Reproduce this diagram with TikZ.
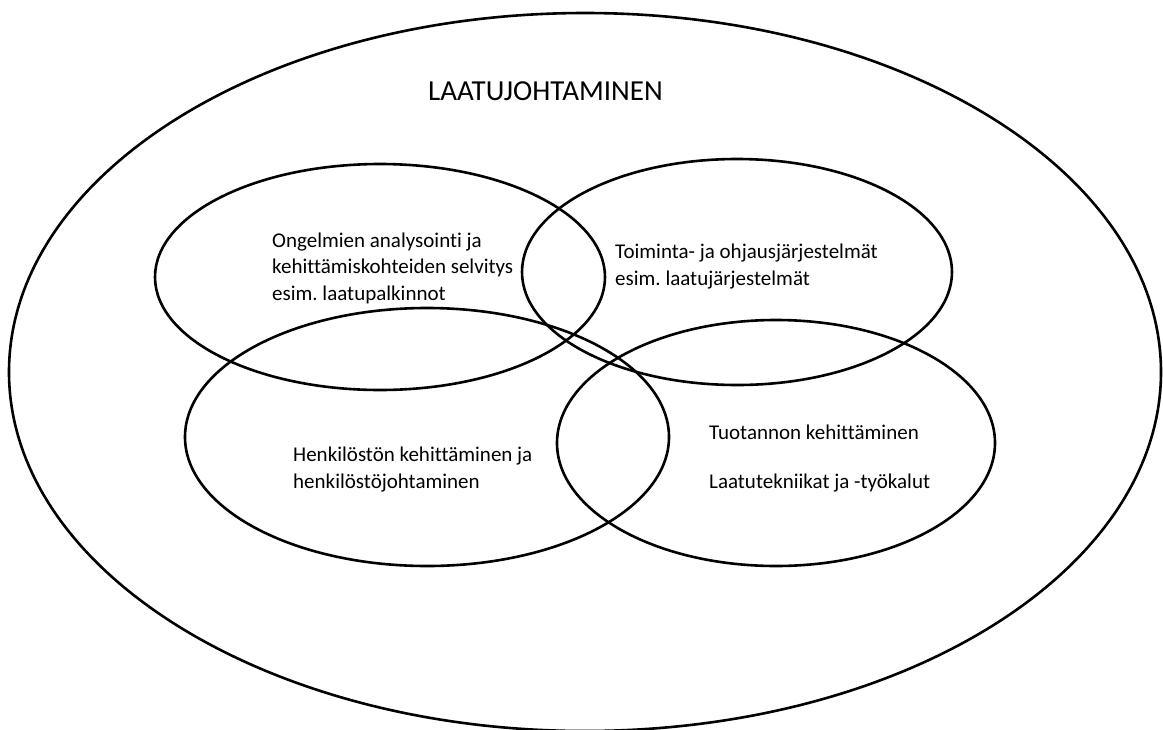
\documentclass[tikz,border=0pt]{standalone}
\usepackage{fontspec}
\setmainfont{Carlito}[Ligatures=NoCommon]
\usepackage{tikz}
\usetikzlibrary{positioning}
\frenchspacing

\begin{document}
\begin{tikzpicture}[x=1pt, y=-1pt,
    ring/.style={line width=2.6pt},
    lbl/.style={anchor=base west, align=left, inner sep=0pt,
      font=\fontsize{21}{26.5}\selectfont}]
  \useasboundingbox (0,0) rectangle (1163,729);
  % outer ring and the four overlapping rings
  \foreach \cx/\cy/\rx/\ry in {
      585/372/576/359,
      380/277/225/113,
      737/272/215/113,
      427/437/242/129,
      776/443/219/123} {
    \draw[ring] (\cx,\cy) ellipse [x radius=\rx pt, y radius=\ry pt];
  }
  % base anchor sits on the last line
  \node[lbl, font=\fontsize{29}{34}\selectfont] (laatu) at (428,100) {LAATUJOHTAMINEN};
  \node[lbl] (ongelmat) at (272,300)
    {Ongelmien analysointi ja\\ kehittämiskohteiden selvitys\\ esim. laatupalkinnot};
  \node[lbl] (toiminta) at (615,285)
    {Toiminta- ja ohjausjärjestelmät\\ esim. laatujärjestelmät};
  \node[lbl] (henkilosto) at (293,488)
    {Henkilöstön kehittäminen ja\\ henkilöstöjohtaminen};
  \node[lbl] (tuotanto) at (709,439) {Tuotannon kehittäminen};
  \node[lbl] (tekniikat) at (709,488) {Laatutekniikat ja -työkalut};
\end{tikzpicture}
\end{document}
